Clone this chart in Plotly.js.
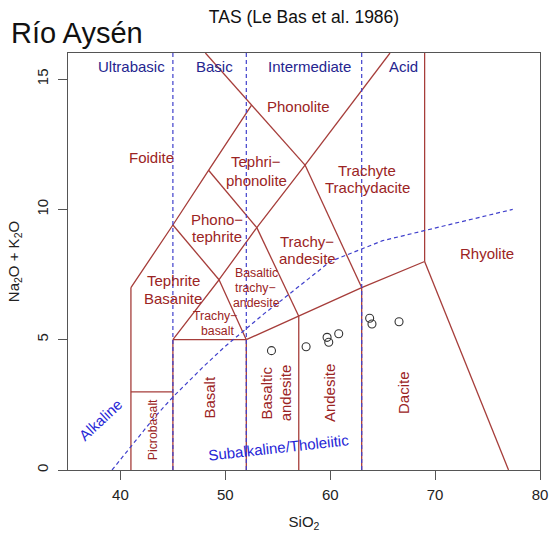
<!DOCTYPE html>
<html>
<head>
<meta charset="utf-8">
<script src="https://cdn.plot.ly/plotly-3.0.1.min.js"></script>
<style>html,body{margin:0;padding:0;background:#fff;}#chart{width:549px;height:547px;}</style>
</head>
<body>
<div id="chart"></div>
<script>
// ---- Data ----
// Sample analyses (SiO2 wt%, Na2O+K2O wt%)
const sampleSiO2 = [54.40, 57.70, 59.70, 59.86, 60.81, 63.76, 63.98, 66.56];
const sampleAlk  = [4.58, 4.73, 5.09, 4.90, 5.23, 5.82, 5.60, 5.69];

// TAS field boundaries (Le Bas et al. 1986), each entry one polyline
const boundarySiO2 = [
  [41, 41],
  [41, 45, 48.4, 52.5],
  [48.1, 52.5, 57.6],
  [57.6, 65.7],
  [69, 69],
  [41, 45],
  [45, 45],
  [45, 52],
  [52, 52],
  [52, 57, 63, 69],
  [57, 57],
  [63, 63],
  [69, 77],
  [45, 49.4, 52],
  [49.4, 53, 57.6],
  [53, 57],
  [57.6, 63],
  [45, 49.4],
  [48.4, 53]
];
const boundaryAlk = [
  [0, 7],
  [7, 9.4, 11.5, 14],
  [16, 14, 11.7],
  [11.7, 16],
  [8, 16],
  [3, 3],
  [0, 5],
  [5, 5],
  [0, 5],
  [5, 5.9, 7, 8],
  [0, 5.9],
  [0, 7],
  [8, 0],
  [5, 7.3, 5],
  [7.3, 9.3, 11.7],
  [9.3, 5.9],
  [11.7, 7],
  [9.4, 7.3],
  [11.5, 9.3]
];

// Silica-saturation divisions (ultrabasic / basic / intermediate / acid)
const silicaDivisions = [45, 52, 63];

// Alkaline / subalkaline divide (Irvine & Baragar 1971)
const ibSiO2 = [39.2, 40, 43.2, 45, 48, 50, 53.7, 55, 60, 65, 77.4];
const ibAlk  = [0, 0.4, 2, 2.8, 4, 4.75, 6, 6.4, 8, 8.8, 10];

const xTicks = [40, 50, 60, 70, 80];
const yTicks = [0, 5, 10, 15];

// Field name texts
const fieldNames = ["Phonolite", "Foidite", "Tephri\u2212", "phonolite", "Trachyte", "Trachydacite",
  "Phono\u2212", "tephrite", "Trachy\u2212", "andesite", "Rhyolite", "Tephrite", "Basanite",
  "Basalt", "Andesite", "Dacite", "Basaltic", "andesite",
  "Basaltic", "trachy\u2212", "andesite", "Trachy\u2212", "basalt", "Picrobasalt"];
const groupNames = ["Ultrabasic", "Basic", "Intermediate", "Acid"];
const seriesNames = ["Alkaline", "Subalkaline/Tholeiitic"];

// ---- Label placement (layout only) ----
const fieldPos = [
  [57.0, 13.96, 0, 15], [43.0, 11.98, 0, 15], [52.97, 11.83, 0, 15], [52.97, 11.12, 0, 15],
  [63.55, 11.51, 0, 15], [63.55, 10.83, 0, 15],
  [49.16, 9.62, 0, 15], [49.16, 8.95, 0, 15], [57.76, 8.78, 0, 15], [57.8, 8.12, 0, 15],
  [74.93, 8.31, 0, 15], [45.05, 7.29, 0, 15], [45.05, 6.59, 0, 15],
  [48.52, 2.81, -90, 15], [59.95, 2.94, -90, 15], [67.0, 2.98, -90, 15],
  [53.97, 2.97, -90, 15], [55.76, 2.97, -90, 15],
  [52.97, 7.55, 0, 12.3], [52.9, 6.97, 0, 12.3], [52.97, 6.42, 0, 12.3],
  [49.05, 5.91, 0, 12.3], [49.27, 5.34, 0, 12.3], [43.12, 1.53, -90, 12.3]
];
const groupPos = [[41.06, 15.47], [49.0, 15.47], [57.99, 15.47], [67.0, 15.47]];
const seriesPos = [[38.11, 1.94, -43], [55.03, 0.88, -6.3]];

const FONT = "Liberation Sans, Arial, Helvetica, sans-serif";
const RED_LINE = "#a63d3a";
const RED_TEXT = "#9b2424";
const NAVY = "#25258f";
const BLUE = "#2525d6";
const DASH_BLUE = "#4040cc";

function joinSegments(xs, ys) {
  const X = [], Y = [];
  xs.forEach((seg, i) => {
    seg.forEach((v, j) => { X.push(v); Y.push(ys[i][j]); });
    X.push(null); Y.push(null);
  });
  return {X, Y};
}
const fb = joinSegments(boundarySiO2, boundaryAlk);
const divX = [], divY = [];
silicaDivisions.forEach(v => { divX.push(v, v, null); divY.push(0, 16, null); });

const traces = [
  {x: fb.X, y: fb.Y, mode: "lines", type: "scatter", hoverinfo: "skip",
   line: {color: RED_LINE, width: 1.3}, showlegend: false, connectgaps: false},
  {x: divX, y: divY, mode: "lines", type: "scatter", hoverinfo: "skip",
   line: {color: DASH_BLUE, width: 1.2, dash: "4px,3px"}, showlegend: false},
  {x: ibSiO2, y: ibAlk, mode: "lines", type: "scatter", hoverinfo: "skip",
   line: {color: DASH_BLUE, width: 1.2, dash: "4px,3px"}, showlegend: false},
  {x: sampleSiO2, y: sampleAlk, mode: "markers", type: "scatter",
   marker: {symbol: "circle-open", size: 8, color: "#333", line: {width: 1.1, color: "#333"}},
   showlegend: false}
];

const annotations = [];
fieldNames.forEach((t, i) => {
  const p = fieldPos[i];
  annotations.push({x: p[0], y: p[1], xref: "x", yref: "y", text: t, showarrow: false,
    textangle: p[2], xanchor: "center", yanchor: "middle",
    font: {family: FONT, size: p[3], color: RED_TEXT}});
});
groupNames.forEach((t, i) => {
  const p = groupPos[i];
  annotations.push({x: p[0], y: p[1], xref: "x", yref: "y", text: t, showarrow: false,
    xanchor: "center", yanchor: "middle", font: {family: FONT, size: 15, color: NAVY}});
});
seriesNames.forEach((t, i) => {
  const p = seriesPos[i];
  annotations.push({x: p[0], y: p[1], xref: "x", yref: "y", text: t, showarrow: false,
    textangle: p[2], xanchor: "center", yanchor: "middle", font: {family: FONT, size: 15, color: BLUE}});
});
annotations.push({x: -0.126, y: 1.047, xref: "paper", yref: "paper", text: "Río Aysén",
  showarrow: false, xanchor: "left", yanchor: "middle", font: {family: FONT, size: 29, color: "#111"}});

const axisCommon = {
  showgrid: false, zeroline: false, showline: true, mirror: true,
  linecolor: "#555", linewidth: 1, ticks: "outside", ticklen: 9, tickwidth: 1, tickcolor: "#555",
  tickfont: {family: FONT, size: 15, color: "#222"}, fixedrange: true
};

const layout = {
  width: 549, height: 547, autosize: false,
  margin: {l: 68, r: 9, t: 53, b: 77, pad: 0},
  paper_bgcolor: "#fff", plot_bgcolor: "#fff",
  title: {text: "TAS (Le Bas et al. 1986)", x: 0.5, xref: "paper", y: 0.97, yref: "container",
          yanchor: "middle", font: {family: FONT, size: 17.5, color: "#111"}},
  xaxis: Object.assign({}, axisCommon, {range: [35, 80], tickvals: xTicks, ticktext: xTicks.map(String),
    ticklabelstandoff: 2,
    title: {text: "SiO<sub>2</sub>", font: {family: FONT, size: 15, color: "#222"}, standoff: 14}}),
  yaxis: Object.assign({}, axisCommon, {range: [0, 16], tickvals: yTicks, ticktext: yTicks.map(String),
    tickangle: -90, ticklabelstandoff: 4,
    title: {text: "Na<sub>2</sub>O + K<sub>2</sub>O", font: {family: FONT, size: 15, color: "#222"}, standoff: 10}}),
  annotations: annotations,
  showlegend: false
};

Plotly.newPlot("chart", traces, layout, {displayModeBar: false, staticPlot: true});
</script>
</body>
</html>
